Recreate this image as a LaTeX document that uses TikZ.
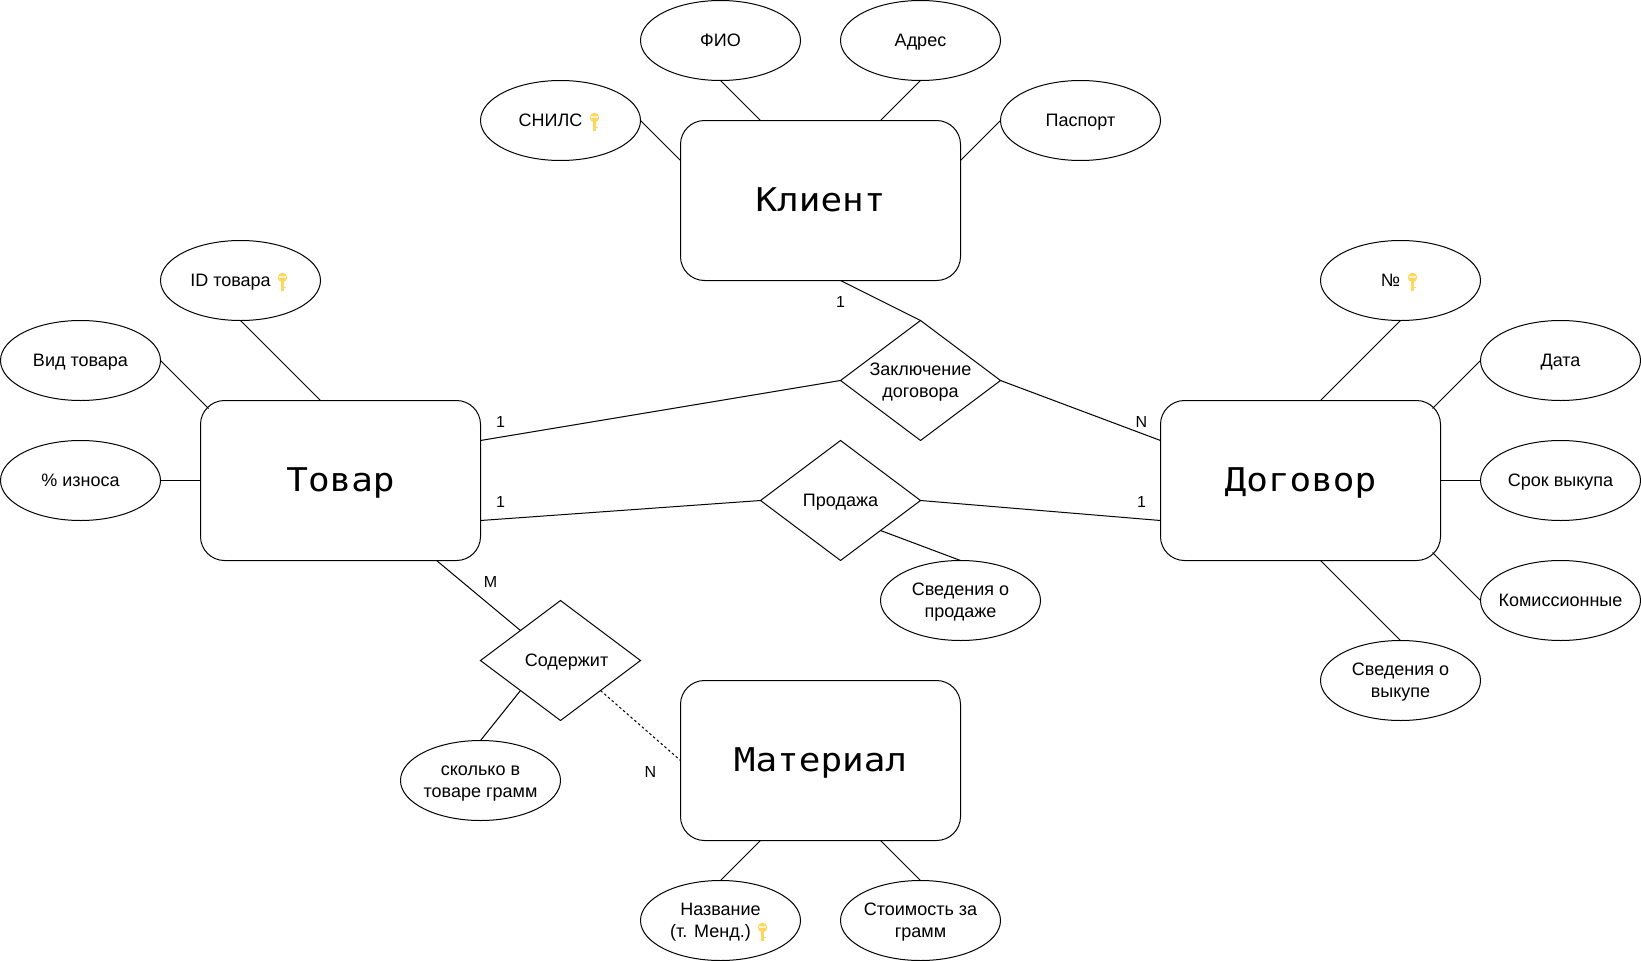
\documentclass[tikz,border=0pt]{standalone}
\usepackage{fontspec}
\usetikzlibrary{shapes.geometric,calc}
\setmainfont{Liberation Sans}
\newfontfamily\entfont[FakeStretch=1.1]{DejaVu Sans Mono}
\definecolor{keygold}{HTML}{FFD75E}
\newcommand\lstrut{\rule[-8pt]{0pt}{22pt}}
\newcommand\tstrut{\rule[-8pt]{0pt}{28pt}}
\newcommand\estrut{\rule[-11pt]{0pt}{44pt}}
\tikzset{
  x=1pt,y=-1pt,
  attr/.style={ellipse,draw=black,line width=1pt,minimum width=160pt,minimum height=80pt,inner xsep=-30pt,inner ysep=-20pt,outer sep=0pt,align=center,font=\fontsize{18}{22}\selectfont},
  entity/.style={rectangle,rounded corners=24pt,draw=black,line width=1pt,minimum width=280pt,minimum height=160pt,inner sep=0pt,outer sep=0pt,font=\entfont\fontsize{32.7}{42}\selectfont},
  rel/.style={diamond,aspect=1.3333,draw=black,line width=1pt,minimum width=160pt,minimum height=120pt,inner xsep=-30pt,inner ysep=-20pt,outer sep=0pt,align=center,font=\fontsize{18}{22}\selectfont},
  link/.style={line width=1pt,draw=black},
  card/.style={inner sep=0pt,font=\fontsize{16}{16}\selectfont},
  keyshape/.pic={
    \fill[keygold] (0,0) circle (4.8pt);
    \fill[keygold] (-1.5,3) rectangle (1.5,13);
    \fill[keygold] (1.5,9) rectangle (3,10.5);
    \fill[white!70!keygold] (-3.2,-1.8) rectangle (3.2,0.2);
  }
}
\begin{document}
\begin{tikzpicture}
\useasboundingbox (-0.5,-0.5) rectangle (1640.5,960.5);
\node[entity] (klient) at (820,200) {\estrut Клиент};
\node[entity] (tovar) at (340,480) {\estrut Товар};
\node[entity] (dogovor) at (1300,480) {\estrut Договор};
\node[entity] (material) at (820,760) {\estrut Материал};
\node[rel] (zakl) at (920,380) {\tstrut Заключение\\\lstrut договора};
\node[rel] (prod) at (840,500) {\tstrut Продажа};
\node[rel] (soderzh) at (560,660) {\tstrut\hspace*{12pt}Содержит};
\node[attr] (snils) at (560,120) {\tstrut СНИЛС\hspace{20pt}\mbox{}};
\node[attr] (fio) at (720,40) {\tstrut ФИО};
\node[attr] (adres) at (920,40) {\tstrut Адрес};
\node[attr] (pasport) at (1080,120) {\tstrut Паспорт};
\node[attr] (idt) at (240,280) {\tstrut ID товара\hspace{20pt}\mbox{}};
\node[attr] (vid) at (80,360) {\tstrut Вид товара};
\node[attr] (iznos) at (80,480) {\tstrut\% износа};
\node[attr] (num) at (1400,280) {\tstrut №\hspace{20pt}\mbox{}};
\node[attr] (data) at (1560,360) {\tstrut Дата};
\node[attr] (srok) at (1560,480) {\tstrut Срок выкупа};
\node[attr] (komis) at (1560,600) {\tstrut Комиссионные};
\node[attr] (svvyk) at (1400,680) {\tstrut Сведения о\\\lstrut выкупе};
\node[attr] (svprod) at (960,600) {\tstrut Сведения о\\\lstrut продаже};
\node[attr] (skolko) at (480,780) {\tstrut сколько в\\\lstrut товаре грамм};
\node[attr] (nazv) at (720,920) {\tstrut Название\\\lstrut (т. Менд.)\hspace{20pt}\mbox{}};
\node[attr] (stoim) at (920,920) {\tstrut Стоимость за\\\lstrut грамм};
% connectors
\draw[link] (snils.east) -- ($(klient.north west)!0.25!(klient.south west)$);
\draw[link] (fio.south) -- ($(klient.north west)!0.2857!(klient.north east)$);
\draw[link] (adres.south) -- ($(klient.north west)!0.7143!(klient.north east)$);
\draw[link] (pasport.west) -- ($(klient.north east)!0.25!(klient.south east)$);
\draw[link] (idt.south) -- ($(tovar.north west)!0.4286!(tovar.north east)$);
\draw[link] (vid.east) -- ($(tovar.north west)+(8,8)$);
\draw[link] (iznos.east) -- (tovar.west);
\draw[link] (num.south) -- ($(dogovor.north west)!0.5714!(dogovor.north east)$);
\draw[link] (data.west) -- ($(dogovor.north east)+(-8,8)$);
\draw[link] (srok.west) -- (dogovor.east);
\draw[link] (komis.west) -- ($(dogovor.south east)+(-8,-8)$);
\draw[link] (svvyk.north) -- ($(dogovor.south west)!0.5714!(dogovor.south east)$);
\draw[link] ($(klient.south west)!0.5714!(klient.south east)$) -- (zakl.north);
\draw[link] ($(tovar.north east)!0.25!(tovar.south east)$) -- (zakl.west);
\draw[link] (zakl.east) -- ($(dogovor.north west)!0.25!(dogovor.south west)$);
\draw[link] ($(tovar.north east)!0.75!(tovar.south east)$) -- (prod.west);
\draw[link] (prod.east) -- ($(dogovor.north west)!0.75!(dogovor.south west)$);
\draw[link] (prod.south east) -- (svprod.north);
\draw[link] ($(tovar.south west)!0.843!(tovar.south east)$) -- (soderzh.north west);
\draw[link] (soderzh.south west) -- (skolko.north);
\draw[link,dash pattern=on 2.5pt off 2.5pt] (soderzh.south east) -- ($(material.north west)!0.5!(material.south west)$);
\draw[link] ($(material.south west)!0.2857!(material.south east)$) -- (nazv.north);
\draw[link] ($(material.south west)!0.7143!(material.south east)$) -- (stoim.north);
% cardinalities
\node[card] (c1) at (840,301) {1};
\node[card] (c2) at (500,421) {1};
\node[card] (c3) at (1141,421) {N};
\node[card] (c4) at (500,501) {1};
\node[card] (c5) at (1141,501) {1};
\node[card] (c6) at (490,581) {M};
\node[card] (c7) at (650,771) {N};
% keys
\pic at (594,117) {keyshape};
\pic at (282,277) {keyshape};
\pic at (1412,277) {keyshape};
\pic at (762,927) {keyshape};
\end{tikzpicture}
\end{document}
